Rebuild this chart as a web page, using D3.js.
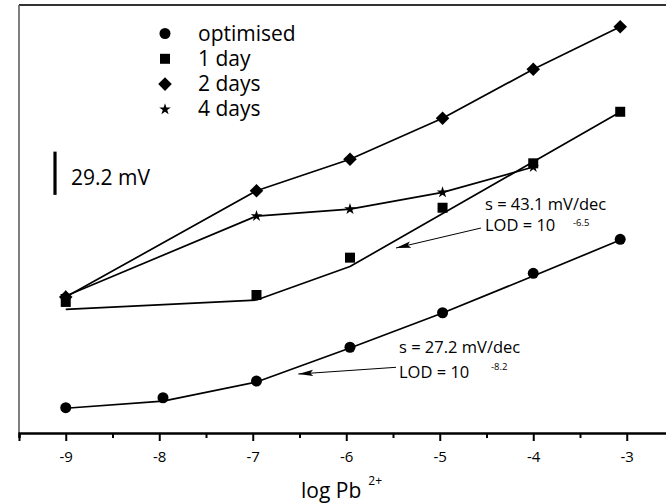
<!DOCTYPE html>
<html><head><meta charset="utf-8">
<script src="https://cdn.jsdelivr.net/npm/d3@7"></script>
<style>
body{margin:0;background:#fff}
svg{display:block}
text{font-family:"Open Sans",sans-serif;fill:#000}
</style>
</head><body>
<svg id="c" width="666" height="503"></svg>
<script>
// ---- data (x: log Pb2+, y: potential in mV, arbitrary offset) ----
const logPb = [-9, -7.96, -6.96, -5.96, -4.97, -4.0, -3.07];
const optimised = [17.1, 23.8, 35.1, 57.9, 81.2, 107.8, 130.8];
const oneDayX = [-9, -6.96, -5.96, -4.97, -4.0, -3.07];
const oneDay = [88.5, 93.2, 118.4, 152.1, 182.1, 216.9];
const twoDaysX = [-9, -6.96, -5.96, -4.97, -4.0, -3.07];
const twoDays = [91.8, 163.6, 184.8, 212.5, 245.6, 274.3];
const fourDaysX = [-9, -6.96, -5.96, -4.97, -4.0];
const fourDays = [92.5, 146.5, 151.2, 162.5, 179.6];
const optimisedFitX = [-9, -7.96, -6.96, -5.96, -4.97, -4.0, -3.07];
const optimisedFit = [16.7, 21.5, 34.4, 57.4, 81.0, 106.0, 130.3];
const oneDayFitX = [-9, -6.96, -5.96, -3.07];
const oneDayFit = [83.5, 89.8, 112.4, 216.7];
const seriesNames = ["optimised", "1 day", "2 days", "4 days"];
const majorTicks = [-9, -8, -7, -6, -5, -4, -3];
const minorTicks = [-9.5, -8.5, -7.5, -6.5, -5.5, -4.5, -3.5, -2.5];
const scaleBarValue = 29.2;   // mV
const scaleBarTop = 190;      // mV
const slopeLabels = ["s = 43.1 mV/dec", "s = 27.2 mV/dec"];
const lodExponents = ["-6.5", "-8.2"];

// ---- layout ----
const svg = d3.select("#c");
const x = d3.scaleLinear().domain([-9.5, -2.5]).range([19, 673.5]);
const y = d3.scaleLinear().domain([0, 289]).range([433, 5]);

// frame
svg.append("line").attr("x1", 19).attr("x2", 666).attr("y1", 5).attr("y2", 5)
  .attr("stroke", "#333").attr("stroke-width", 2);
svg.append("line").attr("x1", 19).attr("x2", 19).attr("y1", 5).attr("y2", 433)
  .attr("stroke", "#555").attr("stroke-width", 1.5);

// axes
const gMinor = svg.append("g").attr("transform", "translate(0,433)")
  .call(d3.axisBottom(x).tickValues(minorTicks).tickSize(5).tickFormat(""));
const gMajor = svg.append("g").attr("transform", "translate(0,433)")
  .call(d3.axisBottom(x).tickValues(majorTicks).tickSize(8).tickPadding(10)
        .tickFormat(d => String(d)));
[gMinor, gMajor].forEach(g => {
  g.selectAll("line").attr("stroke", "#000").attr("stroke-width", 2);
  g.select(".domain").attr("stroke", "#000").attr("stroke-width", 2);
});
gMajor.selectAll("text").attr("font-size", 15).attr("font-family", "Open Sans").attr("fill", "#000");

// axis title
const title = svg.append("text").attr("x", 301).attr("y", 498).attr("font-size", 21);
title.append("tspan").text("log Pb");
title.append("tspan").attr("dx", 7).attr("dy", -13).attr("font-size", 12).text("2+");

// line helpers
const line = d3.line().x(d => x(d[0])).y(d => y(d[1]));
const zip = (a, b) => a.map((v, i) => [v, b[i]]);
function drawLine(xs, ys) {
  svg.append("path").datum(zip(xs, ys)).attr("d", line)
    .attr("fill", "none").attr("stroke", "#000").attr("stroke-width", 1.7)
    .attr("stroke-linejoin", "round");
}
drawLine(optimisedFitX, optimisedFit);
drawLine(oneDayFitX, oneDayFit);
drawLine(twoDaysX, twoDays);
drawLine(fourDaysX, fourDays);

// symbols
const symbols = {
  "optimised": {type: d3.symbolCircle, size: 95, rot: 0},
  "1 day": {type: d3.symbolSquare, size: 100, rot: 0},
  "2 days": {type: d3.symbolSquare, size: 92, rot: 45},
  "4 days": {type: d3.symbolStar, size: 42, rot: 0}
};
function drawMarkers(name, xs, ys) {
  const s = symbols[name];
  svg.append("g").selectAll("path").data(zip(xs, ys)).join("path")
    .attr("d", d3.symbol().type(s.type).size(s.size))
    .attr("transform", d => `translate(${x(d[0])},${y(d[1])}) rotate(${s.rot})`)
    .attr("fill", "#000");
}
drawMarkers("optimised", logPb, optimised);
drawMarkers("1 day", oneDayX, oneDay);
drawMarkers("2 days", twoDaysX, twoDays);
drawMarkers("4 days", fourDaysX, fourDays);

// legend
const leg = svg.append("g");
seriesNames.forEach((n, i) => {
  const s = symbols[n];
  const cy = 33.5 + i * 25.3;
  leg.append("path").attr("d", d3.symbol().type(s.type).size(s.size))
    .attr("transform", `translate(165,${cy}) rotate(${s.rot})`).attr("fill", "#000");
  leg.append("text").attr("x", 198).attr("y", cy + 7).attr("font-size", 21).text(n);
});

// scale bar
svg.append("line").attr("x1", 55).attr("x2", 55)
  .attr("y1", y(scaleBarTop)).attr("y2", y(scaleBarTop - scaleBarValue))
  .attr("stroke", "#000").attr("stroke-width", 3.2);
svg.append("text").attr("x", 71).attr("y", 185).attr("font-size", 21).text(scaleBarValue + " mV");

// arrow marker
svg.append("defs").append("marker").attr("id", "ah")
  .attr("markerUnits", "userSpaceOnUse").attr("markerWidth", 15).attr("markerHeight", 8)
  .attr("refX", 15).attr("refY", 4).attr("orient", "auto")
  .append("path").attr("d", "M0,0.8 L15,4 L0,7.2 L3,4 Z").attr("fill", "#000");

// annotations
const ann = [
  {sx: 485, sy: 210, ly: 231, ex: 573, ey: 226, a: [481, 228, 396, 248]},
  {sx: 399, sy: 353, ly: 378, ex: 491, ey: 370, a: [396, 367.3, 298.3, 374]}
];
ann.forEach((o, i) => {
  svg.append("text").attr("x", o.sx).attr("y", o.sy).attr("font-size", 16.5).text(slopeLabels[i]);
  svg.append("text").attr("x", o.sx).attr("y", o.ly).attr("font-size", 16.5).text("LOD = 10");
  svg.append("text").attr("x", o.ex).attr("y", o.ey).attr("font-size", 9.5).text(lodExponents[i]);
  svg.append("line").attr("x1", o.a[0]).attr("y1", o.a[1]).attr("x2", o.a[2]).attr("y2", o.a[3])
    .attr("stroke", "#000").attr("stroke-width", 1).attr("marker-end", "url(#ah)");
});
</script>
</body></html>
